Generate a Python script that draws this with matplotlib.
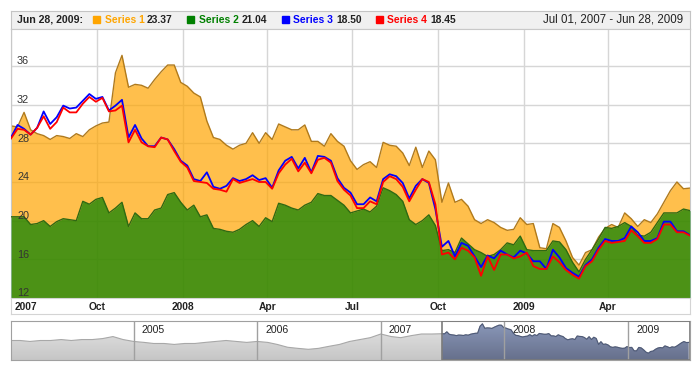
import numpy as np
import pandas as pd
import matplotlib
matplotlib.use("Agg")
import matplotlib.pyplot as plt
import matplotlib.dates as mdates
from matplotlib.colors import LinearSegmentedColormap
from matplotlib.patches import Rectangle

plt.rcParams['font.family'] = ['Liberation Sans', 'DejaVu Sans']

# weekly data, Jul 01 2007 - Jun 28 2009
dates = pd.date_range('2007-07-01', periods=105, freq='7D')

series1 = [29.8, 29.7, 31.2, 29.4, 29.0, 28.8, 28.4, 28.8, 28.7, 28.5, 29.0, 28.7, 29.4, 29.8, 30.1, 30.2, 35.3, 37.1, 33.8, 34.1, 34.0,
           33.7, 34.6, 35.4, 36.1, 36.1, 34.3, 33.9, 33.2, 32.8, 30.3, 28.6, 28.4, 27.8, 27.4, 27.8, 28.0, 29.1, 28.0, 29.1, 28.4, 30.0,
           29.7, 29.4, 29.4, 29.9, 28.2, 28.2, 27.7, 29.0, 28.2, 27.7, 26.2, 25.3, 25.8, 26.1, 25.5, 28.1, 27.8, 27.7, 27.0, 25.7, 27.6,
           25.5, 27.2, 26.3, 21.9, 23.9, 21.9, 22.2, 21.5, 20.1, 19.7, 20.1, 19.8, 19.3, 19.0, 19.1, 20.3, 19.6, 19.7, 17.2, 17.1, 19.7,
           19.3, 17.9, 16.2, 15.4, 16.7, 17.0, 18.3, 19.2, 19.6, 19.3, 20.8, 20.2, 19.4, 20.1, 19.8, 20.7, 21.9, 23.1, 24.0, 23.3, 23.37]

series2 = [20.4, 20.4, 20.4, 19.6, 19.7, 20.0, 19.4, 19.9, 20.2, 20.1, 20.0, 22.0, 21.7, 22.2, 22.4, 20.8, 21.3, 21.9, 19.4, 20.8, 20.2,
           20.2, 21.1, 21.3, 22.7, 22.9, 21.9, 21.1, 21.6, 20.4, 20.6, 19.2, 19.1, 18.9, 18.8, 19.1, 19.6, 20.0, 19.4, 20.3, 19.9, 21.8,
           21.6, 21.3, 21.1, 21.6, 21.9, 22.8, 22.6, 22.6, 22.1, 21.6, 20.8, 21.0, 21.2, 20.9, 21.5, 23.4, 23.1, 22.7, 22.0, 20.1, 19.6,
           20.0, 20.6, 19.5, 16.9, 17.0, 16.7, 18.2, 17.6, 17.0, 16.7, 16.3, 16.5, 17.0, 17.7, 17.5, 18.4, 17.0, 16.9, 16.9, 16.9, 17.9,
           17.8, 17.0, 15.7, 14.7, 16.0, 17.0, 18.1, 19.3, 19.2, 19.4, 19.8, 19.4, 18.5, 18.4, 18.8, 19.8, 20.8, 20.8, 20.8, 21.2, 21.04]

series3 = [28.6, 29.9, 29.5, 28.9, 29.6, 31.3, 30.0, 30.7, 31.9, 31.6, 31.7, 32.4, 33.1, 32.6, 32.8, 31.4, 31.9, 32.5, 28.6, 29.9, 28.5,
           27.7, 27.7, 28.6, 28.4, 27.4, 26.2, 25.7, 24.3, 24.1, 25.0, 23.5, 23.3, 23.6, 24.4, 24.1, 24.3, 24.7, 24.2, 24.4, 23.4, 25.2,
           26.2, 26.6, 25.4, 26.5, 25.0, 26.7, 26.6, 26.2, 24.4, 23.4, 22.9, 21.7, 21.7, 22.4, 22.0, 24.3, 24.8, 24.6, 23.9, 22.3, 23.6,
           24.3, 23.9, 21.2, 17.3, 17.9, 16.3, 17.7, 17.4, 16.3, 15.2, 16.4, 16.1, 16.9, 16.5, 16.2, 16.9, 16.6, 15.8, 15.8, 15.0, 17.0,
           16.2, 15.1, 14.6, 14.2, 15.4, 16.0, 17.2, 18.1, 17.9, 17.9, 18.2, 19.4, 18.8, 17.9, 17.9, 18.2, 19.9, 19.9, 18.9, 18.9, 18.50]

series4 = [28.5, 29.5, 29.4, 28.9, 29.6, 30.8, 29.5, 30.2, 31.7, 31.2, 31.2, 32.1, 32.8, 32.3, 32.7, 31.3, 31.4, 31.9, 28.1, 29.4, 28.1,
           27.7, 27.6, 28.6, 28.4, 27.2, 26.1, 25.5, 24.1, 24.0, 23.9, 23.3, 23.2, 23.0, 24.3, 23.9, 24.1, 24.3, 24.0, 24.0, 23.3, 24.9,
           25.8, 26.4, 25.1, 26.0, 24.9, 26.3, 26.5, 26.0, 24.1, 23.2, 22.6, 21.3, 21.3, 22.0, 21.7, 24.0, 24.6, 24.3, 23.5, 22.0, 23.2,
           24.3, 24.0, 21.7, 16.5, 16.7, 16.0, 17.2, 16.9, 16.2, 14.3, 16.3, 14.9, 16.5, 16.5, 16.1, 16.3, 16.7, 15.3, 15.0, 15.0, 16.3,
           15.7, 14.9, 14.4, 14.0, 15.3, 15.8, 17.0, 17.9, 17.7, 17.8, 17.9, 19.0, 18.4, 17.7, 17.7, 18.1, 19.6, 19.6, 18.8, 18.8, 18.45]

series_names = ['Series 1', 'Series 2', 'Series 3', 'Series 4']
series_colors = ['#ffa500', '#008000', '#0000ff', '#ff0000']

# monthly history shown in the scroller before the selected range
history_dates = pd.date_range('2004-01-01', periods=42, freq='MS')
scroller_history = [24.8, 24.8, 24.1, 24.8, 24.8, 25.5, 24.8, 25.5, 25.5, 26.2, 27.7, 25.5,
                    24.1, 23.4, 22.6, 22.6, 21.9, 22.6, 22.6, 23.4, 24.1, 24.8, 24.1, 23.4,
                    24.1, 23.4, 21.9, 19.8, 19.0, 18.3, 19.0, 20.5, 21.9, 24.1, 25.5, 26.9,
                    29.6, 27.7, 26.9, 28.4, 29.6, 29.6]

x_ticks = pd.to_datetime(['2007-07-01', '2007-10-01', '2008-01-01', '2008-04-01',
                          '2008-07-01', '2008-10-01', '2009-01-01', '2009-04-01'])
x_labels = ['2007', 'Oct', '2008', 'Apr', 'Jul', 'Oct', '2009', 'Apr']
y_ticks = [12, 16, 20, 24, 28, 32, 36]
scroller_years = [2005, 2006, 2007, 2008, 2009]

W, H = 700, 370


def px_box(x0, y0, x1, y1):
    return [x0 / W, 1 - y1 / H, (x1 - x0) / W, (y1 - y0) / H]


def gradient_area(ax, x, y, base, top_color, bottom_color, z):
    poly = ax.fill_between(x, base, y, facecolor='none', edgecolor='none', zorder=z)
    xn = mdates.date2num(np.asarray(x))
    cmap = LinearSegmentedColormap.from_list('g', [bottom_color, top_color])
    grad = np.linspace(0, 1, 64).reshape(-1, 1)
    im = ax.imshow(grad, cmap=cmap, aspect='auto', origin='lower',
                   extent=[xn.min(), xn.max(), base, max(y)], zorder=z)
    im.set_clip_path(poly.get_paths()[0], transform=ax.transData)


fig = plt.figure(figsize=(7, 3.7), dpi=100)

# header bar
hdr = fig.add_axes(px_box(11, 10.5, 690, 28.5))
hdr.set_xlim(11, 690)
hdr.set_ylim(28.5, 10.5)
hdr.set_facecolor('#f0f0f0')
hdr.set_xticks([])
hdr.set_yticks([])
for s in hdr.spines.values():
    s.set_color('#c4c4c4')
ty = 22.8
hdr.text(17, ty, dates[-1].strftime('%b %d, %Y') + ':', fontsize=7.6, fontweight='bold', color='#222222')
sq_x = [93.3, 187, 282, 376]
name_x = [105, 199, 293, 387]
val_x = [147, 242, 336, 430]
for i, vals in enumerate([series1, series2, series3, series4]):
    hdr.add_patch(Rectangle((sq_x[i], 16.3), 6.7, 6.7, color=series_colors[i]))
    hdr.text(name_x[i], ty, series_names[i], fontsize=7.4, fontweight='bold', color=series_colors[i])
    hdr.text(val_x[i], ty, f'{vals[-1]:.2f}', fontsize=7.4, fontweight='bold', color='#222222')
hdr.text(683, ty, f'{dates[0]:%b %d, %Y} - {dates[-1]:%b %d, %Y}', fontsize=8.3,
         color='#222222', ha='right')

# main plot
ax = fig.add_axes(px_box(11, 28.5, 690, 298))
ax.fill_between(dates, 12, series1, color=series_colors[0], alpha=0.7, lw=0, zorder=1)
ax.plot(dates, series1, color='#b07a1c', lw=1, zorder=2)
ax.fill_between(dates, 12, series2, color=series_colors[1], alpha=0.7, lw=0, zorder=3)
ax.plot(dates, series2, color='#2f6a12', lw=1, zorder=4)
ax.plot(dates, series3, color=series_colors[2], lw=1.3, zorder=5)
ax.plot(dates, series4, color=series_colors[3], lw=1.3, zorder=6)
ax.set_xlim(dates[0], dates[-1])
ax.set_ylim(12, 12 + 269.5 / 9.667)
ax.set_xticks(x_ticks)
ax.set_yticks(y_ticks)
ax.tick_params(length=0, labelbottom=False, labelleft=False)
ax.grid(True, color='#d6d6d6', lw=1)
ax.set_axisbelow(True)
for s in ax.spines.values():
    s.set_color('#c8c8c8')
for v in y_ticks:
    ax.annotate(str(v), xy=(0, v), xycoords=ax.get_yaxis_transform(), xytext=(6, 1.5),
                textcoords='offset pixels', va='baseline', ha='left', fontsize=7.8,
                color='#333333', zorder=10)

# x label band
band = fig.add_axes(px_box(11, 298, 690, 314), sharex=ax)
band.set_yticks([])
band.tick_params(length=0, labelbottom=False)
for s in band.spines.values():
    s.set_color('#d4d4d4')
for i, (d, lbl) in enumerate(zip(x_ticks, x_labels)):
    band.annotate(lbl, xy=(mdates.date2num(d), 0), xycoords=band.get_xaxis_transform(),
                  xytext=(4 if i == 0 else 0, 3.5), textcoords='offset pixels',
                  ha='left' if i == 0 else 'center', va='baseline',
                  fontsize=7.4, fontweight='bold', color='#222222')

# scroller
sc = fig.add_axes(px_box(11, 321, 690, 360))
sc_dates = history_dates.append(dates)
sc_vals = list(scroller_history) + list(series1)
sc_bottom = 10.4
gradient_area(sc, sc_dates, sc_vals, sc_bottom, '#e4e4e4', '#c6c6c6', 1)
sc.plot(sc_dates, sc_vals, color='#a8a8a8', lw=0.8, zorder=2)
gradient_area(sc, dates, series1, sc_bottom, '#8a97b8', '#66708c', 3)
sc.plot(dates, series1, color='#4e5a78', lw=0.8, zorder=4)
for yr in scroller_years:
    d = mdates.date2num(pd.Timestamp(f'{yr}-01-01'))
    sc.axvline(d, color='#a0a0a0', lw=1, zorder=5)
    sc.annotate(str(yr), xy=(d, 1), xycoords=sc.get_xaxis_transform(), xytext=(8, -12),
                textcoords='offset pixels', va='baseline', ha='left', fontsize=7.6,
                color='#222222')
sc_left, sc_right = pd.Timestamp('2004-01-05'), pd.Timestamp('2009-07-02')
sel_x0 = mdates.date2num(dates[0])
sc.add_patch(Rectangle((sel_x0, sc_bottom), mdates.date2num(sc_right) - sel_x0, 39.2 - sc_bottom,
                       fill=False, edgecolor='#7a7a7a', lw=1.2, zorder=6))
sc.set_xlim(sc_left, sc_right)
sc.set_ylim(sc_bottom, 39.2)
sc.set_xticks([])
sc.set_yticks([])
for s in sc.spines.values():
    s.set_color('#a0a0a0')

fig.savefig('out.png', dpi=100)
